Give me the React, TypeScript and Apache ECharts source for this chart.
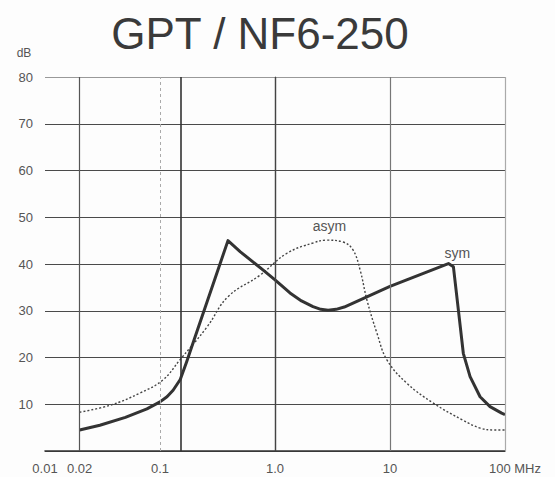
import React, { useEffect, useRef } from "react";
import * as echarts from "echarts";

// ---- data ----
const TITLE = "GPT / NF6-250";
const Y_UNIT = "dB";
const X_TICK_FREQS = [0.01, 0.02, 0.1, 1, 10, 100];
const X_TICK_TEXTS = ["0.01", "0.02", "0.1", "1.0", "10", "100 MHz"];
const Y_TICKS = [0, 10, 20, 30, 40, 50, 60, 70, 80];

// symmetrical attenuation (thick solid)
const SYM_FREQ = [0.02, 0.03, 0.05, 0.077, 0.1, 0.115, 0.13, 0.15, 0.17, 0.2, 0.3, 0.39, 0.5, 0.79, 1.0, 1.35, 1.7, 2.14, 2.5, 2.9, 3.4, 4.0, 10, 32.2, 35.6, 39.3, 43.4, 49.7, 60.7, 74.1, 93.5, 100];
const SYM_DB = [4.5, 5.5, 7.2, 9.0, 10.5, 11.6, 13.0, 15.3, 19.0, 24.1, 36.8, 45, 42.6, 38.7, 36.6, 33.8, 32.1, 30.9, 30.3, 30.1, 30.3, 30.8, 35.2, 40.1, 39.4, 30.2, 20.9, 15.9, 11.6, 9.5, 8.1, 7.8];

// asymmetrical attenuation (thin dotted)
const ASYM_FREQ = [0.02, 0.037, 0.067, 0.106, 0.149, 0.256, 0.39, 0.74, 1.27, 2.14, 2.8, 3.9, 4.77, 5.5, 6.3, 7.7, 9.4, 14, 23.6, 43, 60.8, 80, 100];
const ASYM_DB = [8.3, 9.8, 12.4, 15.2, 19.5, 26.5, 33, 37.6, 42.3, 44.5, 45.1, 44.7, 43, 38.7, 32.3, 25.2, 19.5, 14.5, 10.3, 6.6, 4.9, 4.5, 4.5];

// vertical reference lines (frequency, MHz)
const V_LINES = [0.02, 0.1, 0.15, 1, 10, 100];

const ASYM_LABEL = { text: "asym", freq: 2.8, db: 45.1 };
const SYM_LABEL = { text: "sym", freq: 32.2, db: 40.1 };

const lg = (v: number) => Math.log10(v);
const FONT = "'Liberation Sans', Arial, Helvetica, sans-serif";

export default function App() {
  const ref = useRef<HTMLDivElement>(null);

  useEffect(() => {
    if (!ref.current) return;
    const chart = echarts.init(ref.current, undefined, { renderer: "svg" });

    const vStyles: any[] = [
      { color: "#555", width: 1.2, type: "solid" },
      { color: "#aaa", width: 1, type: [3, 3] },
      { color: "#333", width: 1.6, type: "solid" },
      { color: "#444", width: 1.3, type: "solid" },
      { color: "#777", width: 1.2, type: "solid" },
      { color: "#aaa", width: 1.2, type: "solid" },
    ];

    const xTickVals = X_TICK_FREQS.map(lg);
    const fmtX = (v: number) => {
      let best = 0;
      for (let i = 1; i < xTickVals.length; i++) {
        if (Math.abs(xTickVals[i] - v) < Math.abs(xTickVals[best] - v)) best = i;
      }
      const t = X_TICK_TEXTS[best];
      return best === X_TICK_TEXTS.length - 1 ? `{last|${t}}` : t;
    };

    const hColors = Y_TICKS.map((t) => (t === 80 ? "#999" : "#4a4a4a"));

    const option: any = {
      animation: false,
      backgroundColor: "#fdfdfd",
      grid: {
        left: 45,
        right: 50,
        top: 77,
        bottom: 26,
        containLabel: false,
        outerBoundsMode: "none",
      },
      xAxis: {
        type: "value",
        min: -2,
        max: 2,
        interval: 1,
        axisLine: { show: true, lineStyle: { color: "#333", width: 1.6 } },
        axisTick: { show: false },
        splitLine: { show: false },
        axisLabel: {
          customValues: xTickVals,
          formatter: fmtX,
          color: "#555",
          fontSize: 13,
          fontFamily: FONT,
          margin: 11,
          showMinLabel: true,
          showMaxLabel: true,
          rich: {
            last: { padding: [0, 0, 0, 20], color: "#555", fontSize: 13, fontFamily: FONT },
          },
        },
      },
      yAxis: {
        type: "value",
        min: 0,
        max: 80,
        interval: 10,
        axisLine: { show: true, lineStyle: { color: "#666", width: 1.2 } },
        axisTick: { show: false },
        splitLine: { show: true, lineStyle: { color: hColors, width: 1.2 } },
        axisLabel: {
          formatter: (v: number) => (v === 0 ? "" : String(v)),
          color: "#555",
          fontSize: 13,
          fontFamily: FONT,
          margin: 12,
        },
      },
      graphic: [
        {
          type: "text",
          x: 260,
          y: 33,
          style: {
            text: TITLE,
            fontSize: 44,
            fontFamily: FONT,
            fill: "#3a3a3a",
            textAlign: "center",
            textVerticalAlign: "middle",
          },
        },
        {
          type: "text",
          x: 24,
          y: 53,
          style: {
            text: Y_UNIT,
            fontSize: 12,
            fontFamily: FONT,
            fill: "#555",
            textAlign: "center",
            textVerticalAlign: "middle",
          },
        },
      ],
      series: [
        {
          name: "grid",
          type: "line",
          data: [],
          z: 1,
          silent: true,
          markLine: {
            silent: true,
            symbol: ["none", "none"],
            label: { show: false },
            animation: false,
            data: V_LINES.map((f, i) => ({ xAxis: lg(f), lineStyle: vStyles[i] })),
          },
        },
        {
          name: "asym",
          type: "line",
          z: 3,
          showSymbol: false,
          symbol: "none",
          smooth: 0.4,
          data: ASYM_FREQ.map((f, i) => [lg(f), ASYM_DB[i]]),
          lineStyle: { color: "#444", width: 1.4, type: [2, 2] },
          markPoint: {
            symbol: "circle",
            symbolSize: 0,
            silent: true,
            label: {
              show: true,
              position: "inside",
              offset: [3, -14],
              color: "#555",
              fontSize: 14,
              fontFamily: FONT,
              formatter: ASYM_LABEL.text,
            },
            data: [{ coord: [lg(ASYM_LABEL.freq), ASYM_LABEL.db] }],
          },
        },
        {
          name: "sym",
          type: "line",
          z: 4,
          showSymbol: false,
          symbol: "none",
          smooth: false,
          data: SYM_FREQ.map((f, i) => [lg(f), SYM_DB[i]]),
          lineStyle: { color: "#333", width: 3, join: "round" },
          markPoint: {
            symbol: "circle",
            symbolSize: 0,
            silent: true,
            label: {
              show: true,
              position: "inside",
              offset: [9, -11],
              color: "#555",
              fontSize: 14,
              fontFamily: FONT,
              formatter: SYM_LABEL.text,
            },
            data: [{ coord: [lg(SYM_LABEL.freq), SYM_LABEL.db] }],
          },
        },
      ],
    };

    chart.setOption(option);
    return () => chart.dispose();
  }, []);

  return (
    <div
      ref={ref}
      style={{ position: "fixed", left: 0, top: 0, width: 555, height: 477 }}
    />
  );
}
